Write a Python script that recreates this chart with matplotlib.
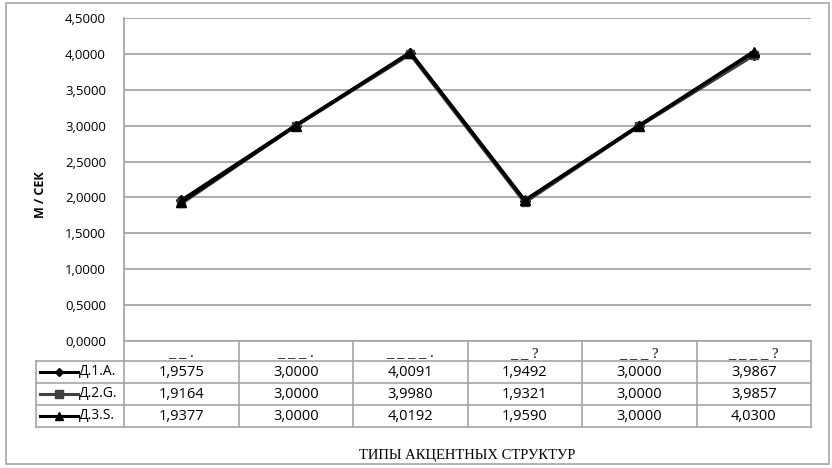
import matplotlib.pyplot as plt
from matplotlib.lines import Line2D
from matplotlib.patches import Rectangle
from matplotlib.ticker import FuncFormatter
import matplotlib.transforms as mtransforms

categories = ["_ _ .", "_ _ _ .", "_ _ _ _ .", "_ _ ?", "_ _ _ ?", "_ _ _ _ ?"]
series_names = ["Д.1.А.", "Д.2.G.", "Д.3.S."]
d1a = [1.9575, 3.0000, 4.0091, 1.9492, 3.0000, 3.9867]
d2g = [1.9164, 3.0000, 3.9980, 1.9321, 3.0000, 3.9857]
d3s = [1.9377, 3.0000, 4.0192, 1.9590, 3.0000, 4.0300]
y_ticks = [0, 0.5, 1.0, 1.5, 2.0, 2.5, 3.0, 3.5, 4.0, 4.5]

W, H = 832, 468
fig = plt.figure(figsize=(W / 100, H / 100), dpi=100)
font = ["Open Sans", "DejaVu Sans"]
grid_c = "#a6a6a6"


def fx(px):
    return px / W


def fy(py):
    return 1 - py / H


# chart outer border
fig.patches.append(Rectangle((fx(6), fy(464)), fx(823), (464 - 3) / H,
                             transform=fig.transFigure, fill=False,
                             edgecolor=grid_c, lw=1.2))

left, right, top, bottom = 124, 811, 18, 341
ax = fig.add_axes([fx(left), fy(bottom), fx(right - left), (bottom - top) / H])

styles = [("D", "black", 5), ("s", "#404040", 6), ("^", "black", 6.5)]
all_series = [d1a, d2g, d3s]
x = list(range(len(categories)))
for vals, (m, c, ms) in zip(all_series, styles):
    ax.plot(x, vals, color=c, lw=2.6, marker=m, markersize=ms, zorder=3)

ax.set_xlim(-0.5, len(categories) - 0.5)
ax.set_ylim(0, 4.5)
ax.set_yticks(y_ticks)
ax.yaxis.set_major_formatter(FuncFormatter(lambda v, p: f"{v:.4f}".replace(".", ",")))
ax.set_xticks([])
ax.grid(axis="y", color=grid_c, lw=1.3)
ax.set_axisbelow(True)
for s in ["top", "right", "bottom"]:
    ax.spines[s].set_visible(False)
ax.spines["left"].set_color(grid_c)
ax.spines["left"].set_linewidth(1.3)
ax.tick_params(axis="y", length=0, pad=13, labelsize=9.5, labelcolor="black")
for t in ax.get_yticklabels():
    t.set_family(font)
fig.text(fx(41), fy(195), "М / СЕК", rotation=90, ha="center", va="center",
         family=font, fontsize=9, fontweight="bold")

# data table below the plot
row_y = [341, 361, 383, 405, 427]
col_x = [left + i * (right - left) / len(categories) for i in range(len(categories) + 1)]
tl = dict(transform=fig.transFigure, color=grid_c, lw=1.2)
fig.add_artist(Line2D([fx(left), fx(right)], [fy(row_y[0])] * 2, **tl))
for yy in row_y[1:]:
    fig.add_artist(Line2D([fx(36), fx(right)], [fy(yy)] * 2, **tl))
fig.add_artist(Line2D([fx(36), fx(36)], [fy(row_y[1]), fy(row_y[-1])], **tl))
for cx in col_x:
    fig.add_artist(Line2D([fx(cx), fx(cx)], [fy(row_y[0]), fy(row_y[-1])], **tl))

trans = mtransforms.blended_transform_factory(ax.transData, fig.transFigure)

# category headers
for i, cat in enumerate(categories):
    ax.text(i, fy(row_y[1] - 4), cat, transform=trans, ha="center", va="baseline",
            family="Liberation Serif", fontsize=10.5)

for r, vals in enumerate(all_series):
    yc = fy((row_y[r + 1] + row_y[r + 2]) / 2)
    for i, v in enumerate(vals):
        ax.text(i, yc, f"{v:.4f}".replace(".", ","), transform=trans,
                ha="center", va="center", family=font, fontsize=10.5)
    m, c, ms = styles[r]
    fig.add_artist(Line2D([fx(40), fx(78)], [yc, yc], transform=fig.transFigure,
                          color=c, lw=2.2))
    fig.add_artist(Line2D([fx(59)], [yc], transform=fig.transFigure, color=c,
                          marker=m, markersize=ms * 0.9, lw=0))
    fig.text(fx(79), yc, series_names[r], ha="left", va="center",
             family=font, fontsize=10)

fig.text(fx(467), fy(455), "ТИПЫ АКЦЕНТНЫХ СТРУКТУР", ha="center", va="center",
         family="Liberation Serif", fontsize=10.5)

fig.savefig("out.png", dpi=100)
